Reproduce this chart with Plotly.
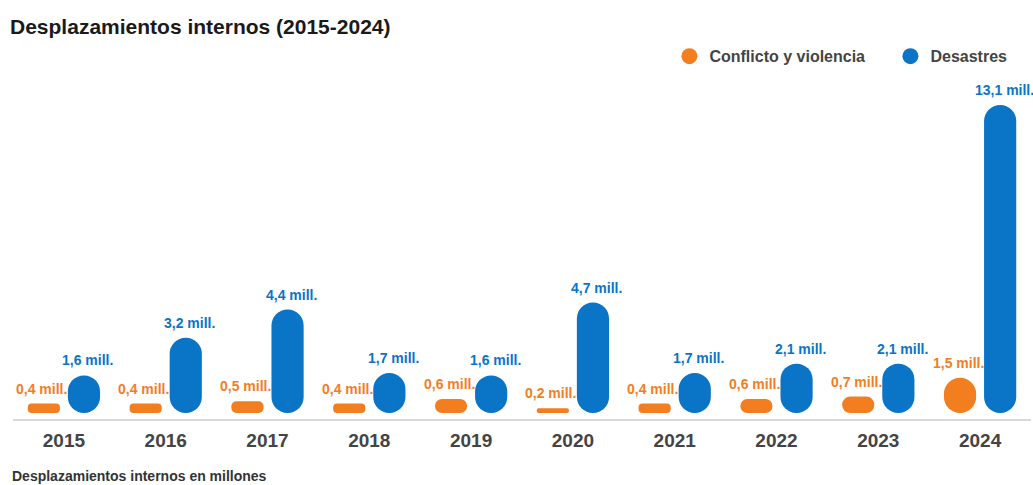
import plotly.graph_objects as go

years = ["2015", "2016", "2017", "2018", "2019", "2020", "2021", "2022", "2023", "2024"]
conflicto = [0.4, 0.4, 0.5, 0.4, 0.6, 0.2, 0.4, 0.6, 0.7, 1.5]
desastres = [1.6, 3.2, 4.4, 1.7, 1.6, 4.7, 1.7, 2.1, 2.1, 13.1]
series_names = ["Conflicto y violencia", "Desastres"]

ORANGE = "#F27E1F"
BLUE = "#0A74C6"
FONT = "Liberation Sans"


def fmt(v):
    return f"{v:.1f}".replace(".", ",") + " mill."


fig = go.Figure()

idx = list(range(len(years)))
bar_w = 0.316
specs = [
    (conflicto, ORANGE, -0.355, -22),
    (desastres, BLUE, 0.039, 24),
]

for vals, color, off, xs in specs:
    # explicit zero base -> plotly rounds both ends (pill shape)
    fig.add_trace(go.Bar(x=idx, y=vals, base=[0] * len(vals), width=bar_w, offset=off,
                         marker=dict(color=color, cornerradius="50%", line=dict(width=0)),
                         showlegend=False, hoverinfo="skip"))
    for i, v in zip(idx, vals):
        fig.add_annotation(x=i, y=v, text=fmt(v), showarrow=False,
                           xanchor="center", yanchor="bottom", xshift=xs, yshift=5,
                           font=dict(family=FONT, size=14, color=color, weight="bold"))

for name, color in zip(series_names, [ORANGE, BLUE]):
    fig.add_trace(go.Scatter(x=[None], y=[None], mode="markers", name=name,
                             marker=dict(size=20, color=color, symbol="circle")))

fig.add_annotation(text="Desplazamientos internos en millones", xref="paper", yref="paper",
                   x=-0.003, y=-0.168, xanchor="left", yanchor="middle", showarrow=False,
                   font=dict(family=FONT, size=14, color="#333333", weight="bold"))

fig.update_layout(
    width=1033, height=485,
    margin=dict(l=13, r=2, t=80, b=66, autoexpand=False),
    paper_bgcolor="white", plot_bgcolor="white",
    barmode="overlay",
    title=dict(text="Desplazamientos internos (2015-2024)", xref="container", yref="container",
               x=0.0097, xanchor="left", y=1 - 27 / 485, yanchor="middle",
               font=dict(family=FONT, size=21, color="#1a1a1a", weight="bold")),
    legend=dict(orientation="h", x=1.079, xanchor="right", y=1.07, yanchor="middle",
                font=dict(family=FONT, size=16, color="#444444", weight="bold"),
                itemsizing="trace", bgcolor="rgba(0,0,0,0)", entrywidth=176),
    xaxis=dict(range=[-0.5, 9.5], tickmode="array", tickvals=idx, ticktext=years,
               showgrid=False, zeroline=False, showline=True,
               linecolor="#d9d9d9", linewidth=2, ticks="", ticklabelstandoff=3,
               tickfont=dict(family=FONT, size=19, color="#444444", weight="bold"),
               fixedrange=True),
    yaxis=dict(range=[-0.255, 14.165], visible=False, showgrid=False, zeroline=False,
               fixedrange=True),
    font=dict(family=FONT),
)

fig.write_html("out.html", config={"displayModeBar": False},
               post_script="document.body.style.margin='0px';")
